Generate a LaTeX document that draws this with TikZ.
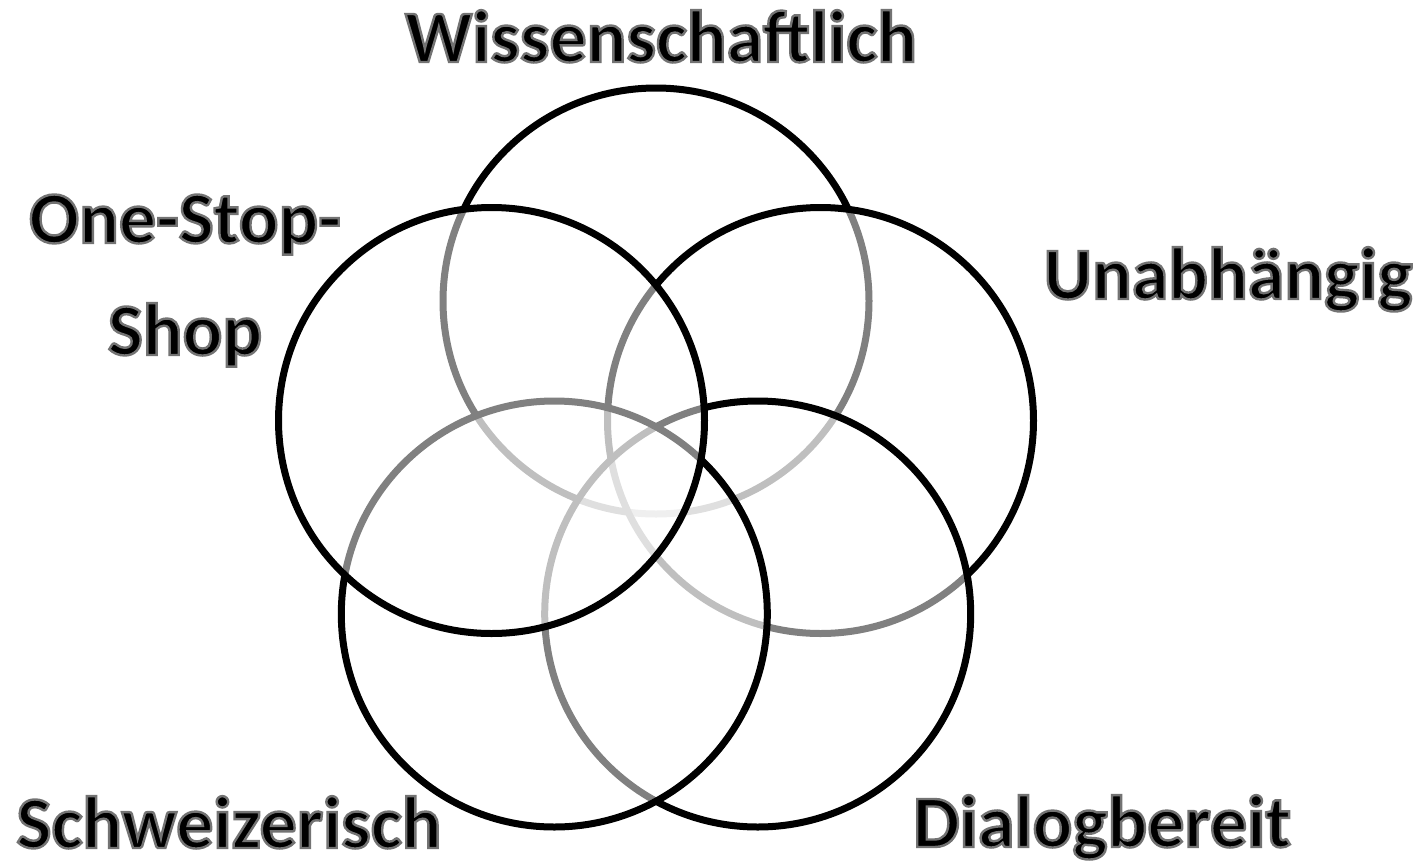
\documentclass[tikz,border=0pt]{standalone}
\usepackage{fontspec}
\setmainfont{Carlito}
\tikzset{
  x=1pt, y=-1pt,
  venn/.style={draw=black, line width=7pt, fill=white, fill opacity=0.5, draw opacity=1, circle, minimum size=426pt, inner sep=0pt},
  lbl/.style={anchor=base, font=\fontsize{74}{112}\selectfont\bfseries, align=center, inner sep=0pt}
}
\newcommand{\glow}[1]{\special{pdf:literal direct 2 Tr 2.4 w 0.45 G}#1\special{pdf:literal direct 0 Tr 0 G}}
\begin{document}
\begin{tikzpicture}
\useasboundingbox (0,0) rectangle (1427,860);
\fill[white] (0,0) rectangle (1427,860);
% circles drawn in stacking order
\node[venn] (top) at (656,301) {};
\node[venn] (right) at (820.5,420.5) {};
\node[venn] (bright) at (757.7,614) {};
\node[venn] (bleft) at (554.3,614) {};
\node[venn] (left) at (491.5,420.5) {};
% labels
\node[lbl] (lwiss) at (661,62) {\glow{Wissenschaftlich}};
\node[lbl] (lone) at (185,243) {\glow{One-Stop-}};
\node[lbl] (lshop) at (185,355) {\glow{Shop}};
\node[lbl] (lunab) at (1228,299) {\glow{Unabhängig}};
\node[lbl] (lschw) at (229,848) {\glow{Schweizerisch}};
\node[lbl] (ldial) at (1102,847) {\glow{Dialogbereit}};
\end{tikzpicture}
\end{document}
